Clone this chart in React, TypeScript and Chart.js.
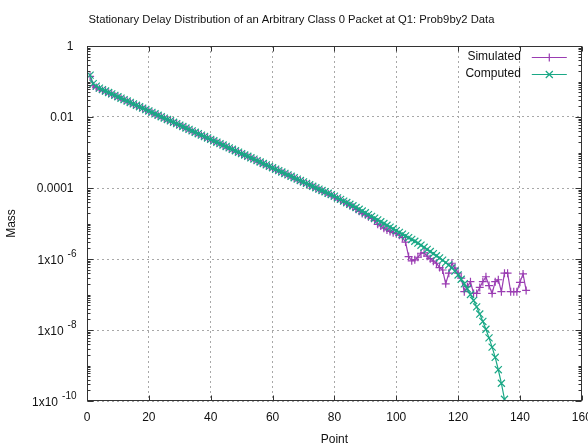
import React, { useEffect, useRef } from 'react';
import { Chart, registerables } from 'chart.js';

Chart.register(...registerables);

const chartTitle = 'Stationary Delay Distribution of an Arbitrary Class 0 Packet at Q1: Prob9by2 Data';
const xAxisTitle = 'Point';
const yAxisTitle = 'Mass';
const seriesNames = ['Simulated', 'Computed'];
const firstPoint = 1;

const xTickValues = [0, 20, 40, 60, 80, 100, 120, 140, 160];
const yTickValues = [1e-10, 1e-8, 1e-6, 1e-4, 1e-2, 1];
const yTickBase = ['1x10', '1x10', '1x10', '0.0001', '0.01', '1'];
const yTickExp = ['-10', '-8', '-6', '', '', ''];

const simulatedMass = [
  1.40e-1, 7.6e-2, 6.8e-2, 6.2e-2, 5.6e-2, 5.3e-2, 4.7e-2, 4.4e-2, 3.9e-2,
  3.7e-2, 3.3e-2, 3.0e-2, 2.8e-2, 2.5e-2, 2.3e-2, 2.1e-2, 1.9e-2, 1.75e-2, 1.6e-2,
  1.45e-2, 1.33e-2, 1.2e-2, 1.1e-2, 1.0e-2, 9.2e-3, 8.3e-3, 7.7e-3, 7.0e-3, 6.3e-3,
  5.8e-3, 5.3e-3, 4.8e-3, 4.4e-3, 4.0e-3, 3.6e-3, 3.35e-3, 3.0e-3, 2.75e-3, 2.5e-3,
  2.3e-3, 2.1e-3, 1.9e-3, 1.75e-3, 1.6e-3, 1.45e-3, 1.32e-3, 1.2e-3, 1.1e-3, 1.0e-3,
  9.1e-4, 8.3e-4, 7.6e-4, 7.0e-4, 6.3e-4, 5.8e-4, 5.3e-4, 4.8e-4, 4.4e-4, 4.0e-4,
  3.6e-4, 3.3e-4, 3.0e-4, 2.75e-4, 2.5e-4, 2.3e-4, 2.1e-4, 1.9e-4, 1.72e-4, 1.58e-4,
  1.43e-4, 1.3e-4, 1.2e-4, 1.08e-4, 9.8e-5, 9.0e-5, 8.2e-5, 7.4e-5, 6.8e-5, 6.1e-5,
  5.6e-5, 5.0e-5, 4.5e-5, 4.0e-5, 3.6e-5, 3.2e-5, 2.9e-5, 2.5e-5, 2.2e-5, 1.9e-5,
  1.75e-5, 1.55e-5, 1.4e-5, 1.2e-5, 9.5e-6, 8.5e-6, 7.4e-6, 6.6e-6, 6.0e-6, 5.5e-6,
  5.2e-6, 4.7e-6, 4.0e-6, 3.0e-6, 1.17e-6, 8.9e-7, 9.5e-7, 1.12e-6, 1.45e-6, 1.5e-6,
  1.2e-6, 1.02e-6, 8.7e-7, 7.6e-7, 5.75e-7, 4.9e-7, 2.0e-7, 4.0e-7, 7.6e-7, 5.5e-7,
  4.0e-7, 2.9e-7, 1.2e-7, 1.66e-7, 2.3e-7, 1.07e-7, 1.07e-7, 1.58e-7, 2.3e-7, 3.16e-7,
  1.78e-7, 1.07e-7, 2.3e-7, 2.6e-7, 1.2e-7, 4.0e-7, 4.0e-7, 1.2e-7, 1.2e-7, 1.2e-7,
  2.2e-7, 3.8e-7, 1.3e-7,
];

const computedMass = [
  1.51e-1, 8.7e-2, 7.4e-2, 6.5e-2, 5.9e-2, 5.4e-2, 4.9e-2, 4.47e-2, 4.07e-2,
  3.72e-2, 3.39e-2, 3.09e-2, 2.82e-2, 2.57e-2, 2.34e-2, 2.14e-2, 1.95e-2, 1.78e-2, 1.62e-2,
  1.48e-2, 1.35e-2, 1.23e-2, 1.12e-2, 1.02e-2, 9.3e-3, 8.5e-3, 7.8e-3, 7.1e-3, 6.5e-3,
  5.9e-3, 5.4e-3, 4.9e-3, 4.47e-3, 4.07e-3, 3.72e-3, 3.39e-3, 3.09e-3, 2.82e-3, 2.57e-3,
  2.34e-3, 2.14e-3, 1.95e-3, 1.78e-3, 1.62e-3, 1.48e-3, 1.35e-3, 1.23e-3, 1.12e-3, 1.02e-3,
  9.3e-4, 8.5e-4, 7.8e-4, 7.1e-4, 6.5e-4, 5.9e-4, 5.4e-4, 4.9e-4, 4.47e-4, 4.07e-4,
  3.72e-4, 3.39e-4, 3.09e-4, 2.82e-4, 2.57e-4, 2.34e-4, 2.14e-4, 1.95e-4, 1.78e-4, 1.62e-4,
  1.48e-4, 1.35e-4, 1.23e-4, 1.12e-4, 1.02e-4, 9.3e-5, 8.5e-5, 7.8e-5, 7.1e-5, 6.5e-5,
  5.9e-5, 5.25e-5, 4.79e-5, 4.27e-5, 3.89e-5, 3.47e-5, 3.16e-5, 2.82e-5, 2.51e-5, 2.24e-5,
  2.0e-5, 1.78e-5, 1.58e-5, 1.41e-5, 1.26e-5, 1.12e-5, 1.0e-5, 8.9e-6, 7.9e-6, 7.1e-6,
  6.3e-6, 5.6e-6, 5.0e-6, 4.47e-6, 3.98e-6, 3.55e-6, 3.16e-6, 2.82e-6, 2.45e-6, 2.14e-6,
  1.86e-6, 1.62e-6, 1.41e-6, 1.23e-6, 1.07e-6, 9.3e-7, 7.9e-7, 6.8e-7, 5.6e-7, 4.57e-7,
  3.55e-7, 2.69e-7, 2.0e-7, 1.45e-7, 1.0e-7, 6.8e-8, 4.47e-8, 2.82e-8, 1.74e-8, 1.05e-8,
  6.0e-9, 3.3e-9, 1.7e-9, 7.6e-10, 3.16e-10, 1.12e-10,
];

const FONT = '"Liberation Sans", Arial, sans-serif';
const TEXT = '#111111';
const PURPLE = '#9a3cb2';
const GREEN = '#1aa886';
const GRID = '#a8a8a8';
const BORDER = '#333333';

const seriesColors = [PURPLE, GREEN];
const seriesMarkers = ['plus', 'cross'];

function drawMarker(ctx: CanvasRenderingContext2D, kind: string, x: number, y: number) {
  ctx.beginPath();
  if (kind === 'plus') {
    ctx.moveTo(x - 4, y); ctx.lineTo(x + 4, y);
    ctx.moveTo(x, y - 4); ctx.lineTo(x, y + 4);
  } else {
    ctx.moveTo(x - 3.5, y - 3.5); ctx.lineTo(x + 3.5, y + 3.5);
    ctx.moveTo(x - 3.5, y + 3.5); ctx.lineTo(x + 3.5, y - 3.5);
  }
  ctx.stroke();
}

const decorPlugin = {
  id: 'gnuplotDecor',
  beforeDraw(chart: any) {
    const { ctx, width, height } = chart;
    ctx.save();
    ctx.fillStyle = '#ffffff';
    ctx.fillRect(0, 0, width, height);
    ctx.restore();
  },
  afterDraw(chart: any) {
    const { ctx, chartArea: a, scales } = chart;
    const xs = scales.x;
    const ys = scales.y;
    const L = Math.round(a.left) + 0.5;
    const R = Math.round(a.right) - 0.5;
    const T = Math.round(a.top) + 0.5;
    const B = Math.round(a.bottom) - 0.5;
    ctx.save();
    ctx.strokeStyle = BORDER;
    ctx.lineWidth = 1;
    ctx.beginPath();
    for (const v of xTickValues) {
      const px = Math.round(xs.getPixelForValue(v)) + 0.5;
      ctx.moveTo(px, B); ctx.lineTo(px, B - 5);
      ctx.moveTo(px, T); ctx.lineTo(px, T + 5);
    }
    for (let e = -10; e <= 0; e++) {
      for (let k = 1; k <= 9; k++) {
        if (e === 0 && k > 1) continue;
        const v = k * Math.pow(10, e);
        const major = k === 1 && e % 2 === 0;
        const len = major ? 6 : 3;
        const py = Math.round(ys.getPixelForValue(v)) + 0.5;
        ctx.moveTo(L, py); ctx.lineTo(L + len, py);
        ctx.moveTo(R, py); ctx.lineTo(R - len, py);
      }
    }
    ctx.stroke();
    ctx.strokeRect(L, T, R - L, B - T);

    // y tick labels (with superscript exponents)
    ctx.fillStyle = TEXT;
    ctx.textBaseline = 'middle';
    ctx.textAlign = 'right';
    yTickValues.forEach((v, i) => {
      const py = ys.getPixelForValue(v);
      const base = yTickBase[i];
      const exp = yTickExp[i];
      if (exp) {
        ctx.font = `10px ${FONT}`;
        const ew = ctx.measureText(exp).width;
        ctx.fillText(exp, 76.5, py - 5);
        ctx.font = `12px ${FONT}`;
        ctx.fillText(base, 76.5 - ew - 4, py + 1.5);
      } else {
        ctx.font = `12px ${FONT}`;
        ctx.fillText(base, 73.5, py + 1);
      }
    });

    // legend
    ctx.font = `12px ${FONT}`;
    ctx.lineWidth = 1.2;
    seriesNames.forEach((name, i) => {
      const y = a.top + 10.5 + i * 17;
      ctx.fillStyle = TEXT;
      ctx.textAlign = 'right';
      ctx.fillText(name, a.right - 61, y);
      ctx.strokeStyle = seriesColors[i];
      ctx.beginPath();
      ctx.moveTo(a.right - 50, Math.round(y) + 0.5);
      ctx.lineTo(a.right - 15, Math.round(y) + 0.5);
      ctx.stroke();
      drawMarker(ctx, seriesMarkers[i], a.right - 32.5, Math.round(y) + 0.5);
    });
    ctx.restore();
  },
};

export default function App() {
  const ref = useRef<HTMLCanvasElement>(null);
  useEffect(() => {
    document.body.style.margin = '0';
    const canvas = ref.current;
    if (!canvas) return;
    const chart = new Chart(canvas, {
      type: 'line',
      data: {
        datasets: [
          {
            label: seriesNames[0],
            data: simulatedMass.map((v, i) => ({ x: i + firstPoint, y: v })),
            borderColor: PURPLE,
            backgroundColor: PURPLE,
            borderWidth: 1.2,
            pointStyle: 'cross',
            pointRadius: 4,
            pointBorderWidth: 1.2,
            pointBorderColor: PURPLE,
            pointHoverRadius: 4,
            tension: 0,
            fill: false,
            order: 1,
          },
          {
            label: seriesNames[1],
            data: computedMass.map((v, i) => ({ x: i + firstPoint, y: v })),
            borderColor: GREEN,
            backgroundColor: GREEN,
            borderWidth: 1.2,
            pointStyle: 'crossRot',
            pointRadius: 5,
            pointBorderWidth: 1.2,
            pointBorderColor: GREEN,
            pointHoverRadius: 5,
            tension: 0,
            fill: false,
            order: 0,
          },
        ],
      },
      plugins: [decorPlugin],
      options: {
        animation: false,
        responsive: false,
        maintainAspectRatio: false,
        events: [],
        layout: { padding: { top: 0, right: 5, bottom: 0, left: 0 } },
        plugins: {
          legend: { display: false },
          tooltip: { enabled: false },
          title: {
            display: true,
            text: chartTitle,
            color: TEXT,
            font: { family: FONT, size: 11.25, weight: 'normal' },
            padding: { top: 13, bottom: 19.5 },
          },
        },
        scales: {
          x: {
            type: 'linear',
            min: 0,
            max: 160,
            afterBuildTicks: (s: any) => {
              s.ticks = xTickValues.map((v) => ({ value: v }));
            },
            afterFit: (s: any) => {
              s.height = 45;
              s.paddingLeft = 0;
              s.paddingRight = 0;
            },
            ticks: {
              color: TEXT,
              font: { family: FONT, size: 12 },
              padding: 9,
              maxRotation: 0,
              autoSkip: false,
            },
            grid: { color: GRID, drawTicks: false, lineWidth: 1 },
            border: { display: false, dash: [2, 3] },
            title: {
              display: true,
              text: xAxisTitle,
              color: TEXT,
              font: { family: FONT, size: 12, lineHeight: 1 },
              padding: { top: 0, bottom: 0 },
            },
          },
          y: {
            type: 'logarithmic',
            min: 1e-10,
            max: 1,
            afterBuildTicks: (s: any) => {
              s.ticks = yTickValues.map((v) => ({ value: v }));
            },
            afterFit: (s: any) => {
              s.width = 87;
              s.paddingTop = 0;
              s.paddingBottom = 0;
            },
            ticks: { display: false },
            grid: { color: GRID, drawTicks: false, lineWidth: 1 },
            border: { display: false, dash: [2, 3] },
            title: {
              display: true,
              text: yAxisTitle,
              color: TEXT,
              font: { family: FONT, size: 12, lineHeight: 1 },
              padding: { top: 6, bottom: 0 },
            },
          },
        },
      },
    } as any);
    return () => chart.destroy();
  }, []);
  return (
    <div style={{ position: 'absolute', left: 0, top: 0, width: 588, height: 446 }}>
      <canvas ref={ref} width={588} height={446} style={{ display: 'block' }} />
    </div>
  );
}
